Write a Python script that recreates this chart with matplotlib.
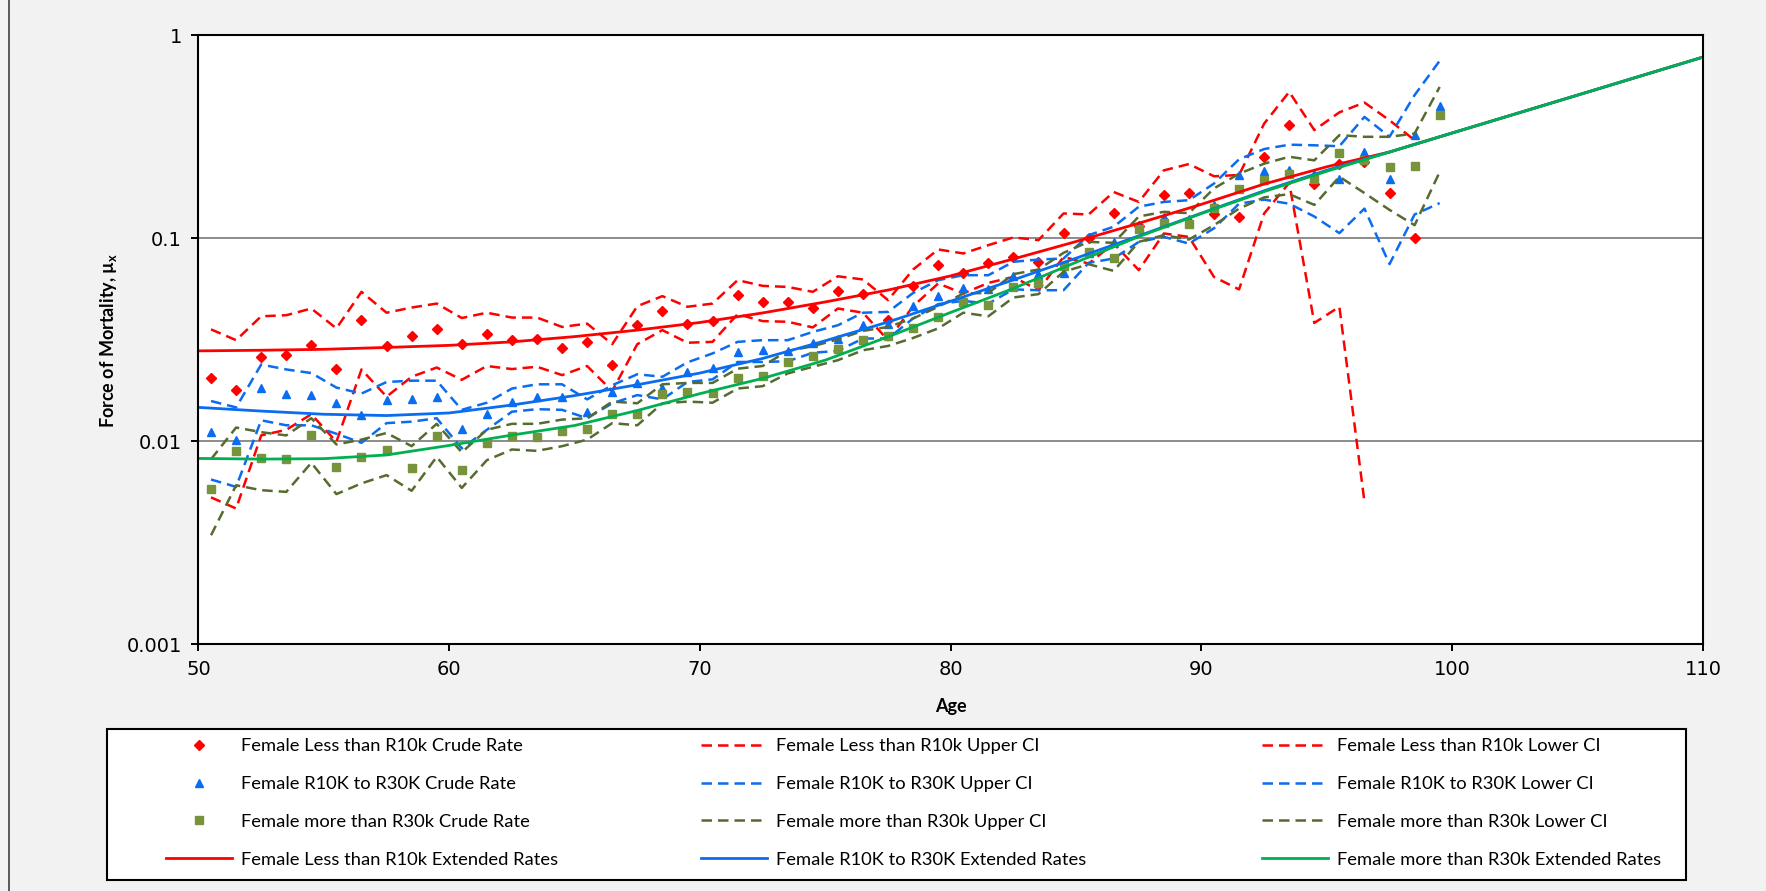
import numpy as np
import matplotlib.pyplot as plt
from matplotlib.lines import Line2D

plt.rcParams['font.family'] = ['Lato', 'DejaVu Sans']
plt.rcParams['mathtext.fontset'] = 'custom'
plt.rcParams['mathtext.rm'] = 'Lato'
plt.rcParams['mathtext.bf'] = 'Lato:bold'

# возраст (середины интервалов)
ages = np.arange(50.5, 100.0, 1.0)          # 50.5 .. 99.5
ages_ext = np.arange(50.0, 110.1, 2.5)      # 50 .. 110

# Female Less than R10k
low_crude = [0.0204, 0.0179, 0.0259, 0.0266, 0.0298, 0.0228, 0.0398, 0.0295, 0.0330, 0.0357,
             0.0301, 0.0336, 0.0315, 0.0321, 0.0289, 0.0307, 0.0237, 0.0376, 0.0438, 0.0380,
             0.0392, 0.0525, 0.0486, 0.0483, 0.0456, 0.0549, 0.0529, 0.0398, 0.0583, 0.0737,
             0.0676, 0.0757, 0.0810, 0.0766, 0.1056, 0.0998, 0.1325, 0.115, 0.163, 0.167,
             0.132, 0.127, 0.252, 0.363, 0.186, 0.232, 0.238, 0.167, 0.0998]
low_upper = [0.0356, 0.0315, 0.0413, 0.0418, 0.0451, 0.0360, 0.0545, 0.0430, 0.0456, 0.0477,
             0.0405, 0.0430, 0.0407, 0.0407, 0.0366, 0.0380, 0.0301, 0.0463, 0.0519, 0.0460,
             0.0477, 0.0622, 0.0583, 0.0576, 0.0545, 0.0650, 0.0627, 0.0496, 0.0702, 0.0881,
             0.0842, 0.0925, 0.101, 0.0979, 0.1325, 0.131, 0.169, 0.151, 0.216, 0.232,
             0.202, 0.205, 0.367, 0.526, 0.341, 0.417, 0.466, 0.381, 0.304]
low_lower = [0.0053, 0.00467, 0.0107, 0.0114, 0.0136, 0.00995, 0.0226, 0.0166, 0.0208, 0.0231,
             0.0201, 0.0235, 0.0227, 0.0233, 0.0212, 0.0235, 0.0177, 0.0301, 0.0353, 0.0306,
             0.0309, 0.0423, 0.0391, 0.0388, 0.0364, 0.0451, 0.0430, 0.0315, 0.0463, 0.0599,
             0.0535, 0.0603, 0.0645, 0.0555, 0.0810, 0.0751, 0.0942, 0.0697, 0.1056, 0.1016,
             0.0645, 0.0560, 0.1325, 0.1875, 0.0383, 0.0460, 0.00504]

# Female R10K to R30K
mid_crude = [0.0111, 0.0101, 0.0184, 0.0171, 0.0169, 0.0154, 0.0135, 0.0160, 0.0161, 0.0165,
             0.0115, 0.0136, 0.0157, 0.0166, 0.0166, 0.0140, 0.0175, 0.0193, 0.0184, 0.0220,
             0.0230, 0.0276, 0.0281, 0.0279, 0.0306, 0.0321, 0.0376, 0.0380, 0.0465, 0.0519,
             0.0566, 0.0560, 0.0651, 0.0666, 0.0676, 0.0851, 0.0960, 0.114, 0.128, 0.125,
             0.146, 0.204, 0.215, 0.216, 0.208, 0.195, 0.266, 0.195, 0.322, 0.449]
mid_upper = [0.0158, 0.0147, 0.0239, 0.0226, 0.0217, 0.0184, 0.0172, 0.0196, 0.0199, 0.0199,
             0.0143, 0.0155, 0.0182, 0.0191, 0.0191, 0.0161, 0.0189, 0.0214, 0.0208, 0.0245,
             0.0271, 0.0309, 0.0315, 0.0315, 0.0346, 0.0373, 0.0430, 0.0434, 0.0538, 0.0622,
             0.0658, 0.0658, 0.0766, 0.0786, 0.0795, 0.1036, 0.114, 0.143, 0.151, 0.154,
             0.186, 0.245, 0.275, 0.289, 0.287, 0.284, 0.396, 0.316, 0.507, 0.748]
mid_lower = [0.00649, 0.00597, 0.0127, 0.0120, 0.0120, 0.0109, 0.00984, 0.0123, 0.0125, 0.0130,
             0.00923, 0.0114, 0.0140, 0.0144, 0.0143, 0.0130, 0.0154, 0.0169, 0.0161, 0.0196,
             0.0202, 0.0246, 0.0246, 0.0248, 0.0273, 0.0279, 0.0321, 0.0321, 0.0403, 0.0474,
             0.0492, 0.0477, 0.0560, 0.0555, 0.0555, 0.0757, 0.0795, 0.0960, 0.1016, 0.0942,
             0.112, 0.148, 0.155, 0.148, 0.128, 0.106, 0.140, 0.0746, 0.131, 0.149]

# Female more than R30k
high_crude = [0.00584, 0.00898, 0.00829, 0.00817, 0.0108, 0.00749, 0.00836, 0.00905, 0.00738, 0.0106,
              0.00725, 0.00977, 0.0106, 0.0105, 0.0113, 0.0115, 0.0137, 0.0137, 0.0171, 0.0175,
              0.0173, 0.0205, 0.0210, 0.0246, 0.0263, 0.0284, 0.0315, 0.0331, 0.0362, 0.0410,
              0.0486, 0.0469, 0.0576, 0.0599, 0.0731, 0.0857, 0.0804, 0.111, 0.119, 0.118,
              0.141, 0.174, 0.193, 0.207, 0.195, 0.263, 0.242, 0.225, 0.226, 0.404]
high_upper = [0.00817, 0.0117, 0.0111, 0.0107, 0.0130, 0.00966, 0.0102, 0.0110, 0.00947, 0.0122,
              0.00883, 0.0114, 0.0122, 0.0122, 0.0128, 0.0130, 0.0157, 0.0154, 0.0191, 0.0194,
              0.0194, 0.0228, 0.0235, 0.0279, 0.0294, 0.0318, 0.0350, 0.0366, 0.0403, 0.0460,
              0.0535, 0.0538, 0.0666, 0.0702, 0.0848, 0.0960, 0.0950, 0.128, 0.135, 0.133,
              0.176, 0.208, 0.233, 0.252, 0.242, 0.322, 0.316, 0.316, 0.328, 0.556]
high_lower = [0.00345, 0.00608, 0.00575, 0.00564, 0.00784, 0.00550, 0.00621, 0.00682, 0.00571, 0.00839,
              0.00590, 0.00808, 0.00912, 0.00898, 0.00947, 0.0102, 0.0123, 0.0120, 0.0154, 0.0157,
              0.0155, 0.0182, 0.0187, 0.0216, 0.0233, 0.0251, 0.0281, 0.0295, 0.0323, 0.0360,
              0.0430, 0.0413, 0.0511, 0.0531, 0.0684, 0.0745, 0.0691, 0.0960, 0.1036, 0.0986,
              0.116, 0.140, 0.159, 0.165, 0.146, 0.201, 0.167, 0.138, 0.116, 0.212]

# продлённые (сглаженные) ставки, 50..110 с шагом 2.5
low_ext = [0.0279, 0.0281, 0.0284, 0.0290, 0.0297, 0.0309, 0.0328, 0.0353, 0.0385, 0.0429,
           0.0486, 0.0556, 0.0653, 0.0791, 0.0964, 0.1186, 0.147, 0.185, 0.225, 0.266,
           0.330, 0.409, 0.507, 0.629, 0.780]
mid_ext = [0.0147, 0.0141, 0.0136, 0.0134, 0.0138, 0.0151, 0.0168, 0.0190, 0.0217, 0.0256,
           0.0313, 0.0387, 0.0490, 0.0624, 0.0798, 0.1028, 0.1330, 0.1714, 0.2163, 0.266,
           0.330, 0.409, 0.507, 0.629, 0.780]
high_ext = [0.00824, 0.00818, 0.00822, 0.00857, 0.00955, 0.01074, 0.01197, 0.01419, 0.01718, 0.02042,
            0.02512, 0.03273, 0.04315, 0.05662, 0.07621, 0.1019, 0.1324, 0.1698, 0.2138, 0.266,
            0.330, 0.409, 0.507, 0.629, 0.780]

RED = '#FF0000'
BLUE = '#0A6CF0'
OLIVE = '#77933C'
DKOLIVE = '#556B2F'
GREEN = '#00B050'

fig = plt.figure(figsize=(17.66, 8.91), dpi=100, facecolor='#F2F2F2')
ax = fig.add_axes([0.1124, 0.2767, 0.8519, 0.6838])
ax.set_facecolor('white')

dash = (0, (4.2, 2.4))
lw = 1.8

n_low = len(low_crude)
h = []
h.append(ax.plot(ages[:n_low], low_crude, ls='none', marker='D', ms=4.6, color=RED,
                 label='Female Less than R10k Crude Rate')[0])
h.append(ax.plot(ages[:n_low], low_upper, ls=dash, lw=lw, color=RED,
                 label='Female Less than R10k Upper CI')[0])
h.append(ax.plot(ages[:len(low_lower)], low_lower, ls=dash, lw=lw, color=RED,
                 label='Female Less than R10k Lower CI')[0])
h.append(ax.plot(ages, mid_crude, ls='none', marker='^', ms=6, color=BLUE,
                 label='Female R10K to R30K Crude Rate')[0])
h.append(ax.plot(ages, mid_upper, ls=dash, lw=lw, color=BLUE,
                 label='Female R10K to R30K Upper CI')[0])
h.append(ax.plot(ages, mid_lower, ls=dash, lw=lw, color=BLUE,
                 label='Female R10K to R30K Lower CI')[0])
h.append(ax.plot(ages, high_crude, ls='none', marker='s', ms=6, color=OLIVE,
                 label='Female more than R30k Crude Rate')[0])
h.append(ax.plot(ages, high_upper, ls=dash, lw=lw, color=DKOLIVE,
                 label='Female more than R30k Upper CI')[0])
h.append(ax.plot(ages, high_lower, ls=dash, lw=lw, color=DKOLIVE,
                 label='Female more than R30k Lower CI')[0])
h.append(ax.plot(ages_ext, low_ext, lw=2.0, color=RED,
                 label='Female Less than R10k Extended Rates')[0])
h.append(ax.plot(ages_ext, mid_ext, lw=2.0, color=BLUE,
                 label='Female R10K to R30K Extended Rates')[0])
h.append(ax.plot(ages_ext, high_ext, lw=2.0, color=GREEN,
                 label='Female more than R30k Extended Rates')[0])

ax.set_yscale('log')
ax.set_ylim(0.001, 1)
ax.set_xlim(50, 110)
ax.set_xticks([50, 60, 70, 80, 90, 100, 110])
ax.set_yticks([0.001, 0.01, 0.1, 1])
ax.set_yticklabels(['0.001', '0.01', '0.1', '1'])
ax.yaxis.set_minor_locator(plt.NullLocator())
ax.grid(True, axis='y', color='#8C8C8C', lw=1.4)
ax.set_axisbelow(True)
for s in ax.spines.values():
    s.set_linewidth(1.5)
    s.set_color('black')
ax.tick_params(axis='both', direction='out', length=5, width=1.4, labelsize=14)
ax.tick_params(axis='x', pad=6)
ax.tick_params(axis='y', pad=7)
for t in ax.get_xticklabels() + ax.get_yticklabels():
    t.set_fontfamily('DejaVu Sans')

ax.set_xlabel('Age', fontsize=13, fontweight='bold')
ax.xaxis.set_label_coords(0.5, -0.088)
ax.set_ylabel(r'Force of Mortality, µ$_\mathbf{x}$', fontsize=13, fontweight='bold')
ax.yaxis.set_label_coords(-0.053, 0.5)

# рамка легенды
W, H = 1766.0, 891.0
fig.patches.append(plt.Rectangle((107 / W, 1 - 880 / H), (1686 - 107) / W, (880 - 729) / H,
                                 transform=fig.transFigure, facecolor='white',
                                 edgecolor='black', lw=1.5, zorder=0))
fig.add_artist(Line2D([9 / W, 9 / W], [0, 1], color='#404040', lw=1.2))

cols = [[h[0], h[3], h[6], h[9]], [h[1], h[4], h[7], h[10]], [h[2], h[5], h[8], h[11]]]
xs = [166, 701, 1262]
for x, hh in zip(xs, cols):
    fig.legend(handles=hh, loc='center left', bbox_to_anchor=(x / W, 1 - 803 / H),
               frameon=False, fontsize=13.2, handlelength=3.6, handletextpad=0.5,
               labelspacing=1.19, borderpad=0, borderaxespad=0, numpoints=1)

fig.savefig('out.png', dpi=100, facecolor=fig.get_facecolor())
